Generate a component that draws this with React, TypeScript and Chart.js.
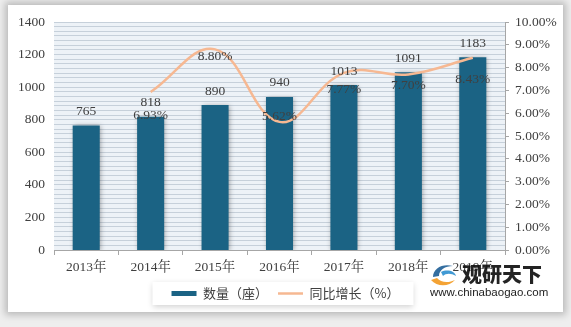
import React, { useEffect, useRef } from "react";
import { Chart, registerables } from "chart.js";

Chart.register(...registerables);

const categories = ["2013年", "2014年", "2015年", "2016年", "2017年", "2018年", "2019年"];
const counts = [765, 818, 890, 940, 1013, 1091, 1183];
const growth: (number | null)[] = [null, 6.93, 8.8, 5.62, 7.77, 7.7, 8.43];
const seriesNames = ["数量（座）", "同比增长（%）"];

// label vertical offsets (style only)
const pctLabelDy = [0, 23, 7, -5, 17, 11, 22];

const BAR = "#1b6384";
const LINE = "#f6b892";
const TEXT = "#404040";
const AXIS = "#a6a6a6";
const NUMFONT = "'Liberation Serif', 'Noto Serif CJK SC', 'Noto Sans CJK SC', serif";
const CJKFONT = "'Noto Sans CJK SC', sans-serif";

export default function App() {
  const ref = useRef<HTMLCanvasElement | null>(null);

  useEffect(() => {
    if (!ref.current) return;
    const plotBg = {
      id: "plotBg",
      beforeDraw(chart: any) {
        const { ctx, chartArea: a } = chart;
        ctx.save();
        ctx.fillStyle = "#edf2f7";
        ctx.fillRect(a.left, a.top, a.right - a.left, a.bottom - a.top);
        const lg = chart.legend;
        if (lg && lg.legendHitBoxes && lg.legendHitBoxes.length) {
          const hb = lg.legendHitBoxes;
          const l = Math.min(...hb.map((h: any) => h.left)) - 19;
          const r = Math.max(...hb.map((h: any) => h.left + h.width)) + 14;
          const t = Math.min(...hb.map((h: any) => h.top)) - 5;
          const b = Math.max(...hb.map((h: any) => h.top + h.height)) + 5;
          ctx.shadowColor = "rgba(0,0,0,0.18)";
          ctx.shadowBlur = 6;
          ctx.shadowOffsetY = 2;
          ctx.fillStyle = "#ffffff";
          ctx.fillRect(l, t, r - l, b - t);
        }
        ctx.restore();
      },
    };
    const barShadow = {
      id: "barShadow",
      beforeDatasetDraw(chart: any, args: any) {
        if (args.index === 1) {
          const ctx = chart.ctx;
          ctx.save();
          ctx.shadowColor = "rgba(0,0,0,0.35)";
          ctx.shadowBlur = 5;
          ctx.shadowOffsetX = 1;
          ctx.shadowOffsetY = 1;
        }
      },
      afterDatasetDraw(chart: any, args: any) {
        if (args.index === 1) chart.ctx.restore();
      },
    };
    const labels = {
      id: "valueLabels",
      afterDatasetsDraw(chart: any) {
        const ctx = chart.ctx;
        ctx.save();
        ctx.fillStyle = TEXT;
        ctx.font = `13.5px ${NUMFONT}`;
        ctx.textAlign = "center";
        ctx.textBaseline = "middle";
        const barMeta = chart.getDatasetMeta(1);
        barMeta.data.forEach((el: any, i: number) => {
          ctx.fillText(String(counts[i]), el.x, el.y - 14);
        });
        const lineMeta = chart.getDatasetMeta(0);
        lineMeta.data.forEach((el: any, i: number) => {
          const v = growth[i];
          if (v == null) return;
          ctx.fillText(v.toFixed(2) + "%", el.x, el.y + pctLabelDy[i]);
        });
        ctx.restore();
      },
    };

    const chart = new Chart(ref.current, {
      type: "bar",
      data: {
        labels: categories,
        datasets: [
          {
            type: "line",
            label: seriesNames[1],
            data: growth,
            yAxisID: "y1",
            borderColor: LINE,
            borderWidth: 2.5,
            tension: 0.4,
            pointRadius: 0,
            fill: false,
            order: 0,
          } as any,
          {
            type: "bar",
            label: seriesNames[0],
            data: counts,
            yAxisID: "y",
            backgroundColor: BAR,
            borderWidth: 0,
            categoryPercentage: 1,
            barPercentage: 0.42,
            order: 1,
          },
        ],
      },
      options: {
        responsive: false,
        animation: false,
        maintainAspectRatio: false,
        layout: { padding: { left: 0, right: 0, top: 22, bottom: 17 } },
        plugins: {
          tooltip: { enabled: false },
          legend: {
            position: "bottom",
            labels: {
              usePointStyle: true,
              pointStyleWidth: 25,
              boxWidth: 25,
              padding: 10,
              color: TEXT,
              font: { family: CJKFONT, size: 13 },
              generateLabels: () => [
                {
                  text: seriesNames[0],
                  pointStyle: "line",
                  strokeStyle: BAR,
                  fillStyle: BAR,
                  lineWidth: 5,
                  datasetIndex: 1,
                  hidden: false,
                  fontColor: TEXT,
                },
                {
                  text: seriesNames[1],
                  pointStyle: "line",
                  strokeStyle: LINE,
                  fillStyle: LINE,
                  lineWidth: 2.5,
                  datasetIndex: 0,
                  hidden: false,
                  fontColor: TEXT,
                },
              ],
            },
          },
        },
        scales: {
          x: {
            offset: true,
            grid: {
              offset: true,
              drawOnChartArea: false,
              drawTicks: true,
              tickLength: 5,
              color: AXIS,
            },
            border: { color: AXIS },
            ticks: { color: TEXT, padding: 4, font: { family: NUMFONT, size: 13.5 }, maxRotation: 0 },
            afterFit: (s: any) => {
              s.height = 27;
            },
          },
          y: {
            position: "left",
            min: 0,
            max: 1400,
            ticks: {
              stepSize: 200,
              color: TEXT,
              padding: 9,
              font: { family: NUMFONT, size: 13.5 },
              callback: (v: any) => String(v),
            },
            grid: { display: false, drawTicks: false },
            border: { display: false },
            afterFit: (s: any) => {
              s.width = 54;
            },
          },
          yg: {
            position: "left",
            min: 0,
            max: 49,
            ticks: { display: false },
            grid: { color: "#c6d0da", drawTicks: false, lineWidth: 1 },
            border: { display: false },
            afterBuildTicks: (s: any) => {
              s.ticks = Array.from({ length: 50 }, (_, i) => ({ value: i }));
            },
            afterFit: (s: any) => {
              s.width = 0;
            },
          },
          y1: {
            position: "right",
            min: 0,
            max: 10,
            ticks: {
              stepSize: 1,
              color: TEXT,
              padding: 6,
              font: { family: NUMFONT, size: 13.5 },
              callback: (v: any) => Number(v).toFixed(2) + "%",
            },
            grid: { drawOnChartArea: false, drawTicks: true, tickLength: 4, color: AXIS },
            border: { color: AXIS },
            afterFit: (s: any) => {
              s.width = 66;
            },
          },
        },
      },
      plugins: [plotBg, barShadow, labels],
    });
    return () => chart.destroy();
  }, []);

  return (
    <div
      style={{
        position: "fixed",
        left: 0,
        top: 0,
        width: 571,
        height: 327,
        background: "#eeeeee",
        overflow: "hidden",
      }}
    >
      <div
        style={{
          position: "absolute",
          left: 8,
          top: 5,
          width: 555,
          height: 307,
          background: "#ffffff",
          boxShadow: "0 0 7px 3px rgba(0,0,0,0.22)",
        }}
      />
      <canvas ref={ref} width={571} height={327} style={{ position: "absolute", left: 0, top: 0 }} />
      <svg
        width="30"
        height="28"
        viewBox="0 0 30 28"
        style={{ position: "absolute", left: 429, top: 260, opacity: 0.9 }}
      >
        <path d="M4 17 C4 8 14 3 24 6 C16 6 10 10 10 16 Z" fill="#1f5f96" />
        <path d="M12 12 C18 9 26 11 27 16 C22 13 17 13 14 16 Z" fill="#2d8fd0" />
        <path d="M2 20 C8 27 20 27 26 20 C20 23 12 23 8 18 Z" fill="#f39a1e" />
      </svg>
      <div
        style={{
          position: "absolute",
          left: 462,
          top: 262,
          fontFamily: CJKFONT,
          fontWeight: 900,
          fontSize: 20,
          letterSpacing: 0,
          color: "#111111",
          lineHeight: "24px",
          opacity: 0.92,
        }}
      >
        观研天下
      </div>
      <div
        style={{
          position: "absolute",
          left: 430,
          top: 285,
          fontFamily: "'Liberation Sans', Arial, sans-serif",
          fontSize: 11.5,
          color: "#222222",
          lineHeight: "14px",
        }}
      >
        www.chinabaogao.com
      </div>
    </div>
  );
}
